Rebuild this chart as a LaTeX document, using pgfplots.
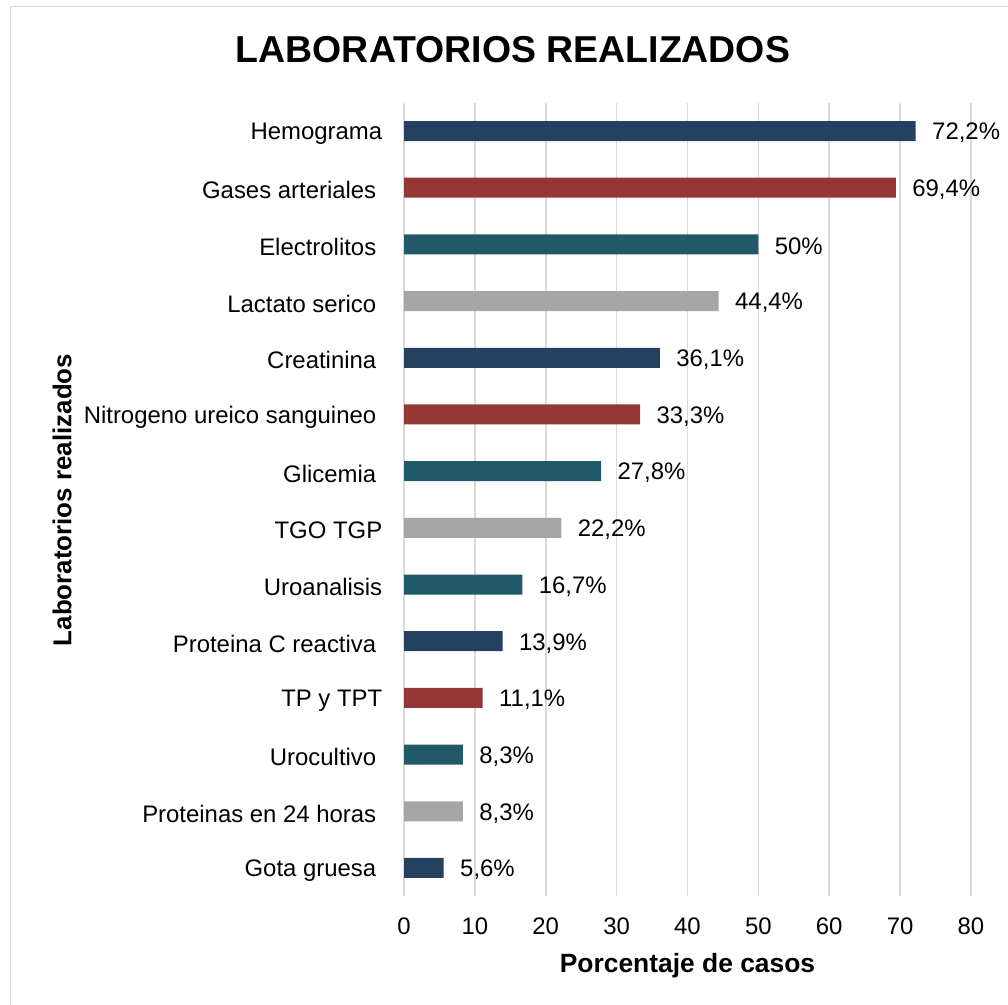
\documentclass[border=0pt]{standalone}
\usepackage{fontspec}
\setmainfont{Liberation Sans}
\usepackage{pgfplots}
\pgfplotsset{compat=1.18}

\definecolor{navy}{HTML}{254061}
\definecolor{brick}{HTML}{953735}
\definecolor{teal2}{HTML}{215968}
\definecolor{grey2}{HTML}{A6A6A6}
\definecolor{gridc}{HTML}{D9D9D9}
\definecolor{framec}{HTML}{D9D9D9}

\newcommand{\tsp}{\hspace*{6bp}}

\begin{document}
\begin{tikzpicture}
\useasboundingbox (0,0) rectangle (1008bp,1005bp);
\begin{scope}
\clip (0,0) rectangle (1008bp,1005bp);
\draw[framec, line width=1.5bp] (10.5bp,-10bp) rectangle (1020bp,998.5bp);
\end{scope}

\node[font=\fontsize{37.6}{41}\selectfont\bfseries] at (513bp,955bp) {LABORATORIOS REALIZADOS};
\node[font=\fontsize{26}{29}\selectfont\bfseries, rotate=90] at (62bp,505bp) {Laboratorios realizados};

\begin{axis}[
  at={(404bp,108.7bp)}, anchor=south west,
  scale only axis,
  width=567bp, height=793.6bp,
  xbar, bar width=20bp, bar shift=0pt,
  xmin=0, xmax=80,
  ymin=-0.5, ymax=13.5,
  xtick={0,10,...,80},
  ytick={0,...,13},
  yticklabels={Gota gruesa\tsp,Proteinas en 24 horas\tsp,Urocultivo\tsp,TP y TPT,Proteina C reactiva\tsp,Uroanalisis,TGO TGP,Glicemia\tsp,Nitrogeno ureico sanguineo\tsp,Creatinina\tsp,Lactato serico\tsp,Electrolitos\tsp,Gases arteriales\tsp,Hemograma},
  axis line style={draw=none},
  tick style={draw=none},
  xmajorgrids, ymajorgrids=false,
  major grid style={gridc, line width=1.5bp},
  /pgf/number format/assume math mode=true,
  ticklabel style={font=\fontsize{24}{27}\selectfont},
  xticklabel style={yshift=-18bp},
  yticklabel style={xshift=-14bp, yshift=-2.5bp},
  xlabel={Porcentaje de casos},
  xlabel style={font=\fontsize{26.5}{29}\selectfont\bfseries, yshift=-12bp},
  point meta=explicit symbolic,
  nodes near coords,
  nodes near coords style={anchor=west, xshift=13bp, yshift=-2bp, font=\fontsize{24}{27}\selectfont, text=black},
  every axis plot/.append style={draw=none},
]
\addplot[fill=navy] coordinates {(72.2,13) [72,2\%] (36.1,9) [36,1\%] (13.9,4) [13,9\%] (5.6,0) [5,6\%]};
\addplot[fill=brick] coordinates {(69.4,12) [69,4\%] (33.3,8) [33,3\%] (11.1,3) [11,1\%]};
\addplot[fill=teal2] coordinates {(50,11) [50\%] (27.8,7) [27,8\%] (16.7,5) [16,7\%] (8.3,2) [8,3\%]};
\addplot[fill=grey2] coordinates {(44.4,10) [44,4\%] (22.2,6) [22,2\%] (8.3,1) [8,3\%]};
\end{axis}
\end{tikzpicture}
\end{document}
